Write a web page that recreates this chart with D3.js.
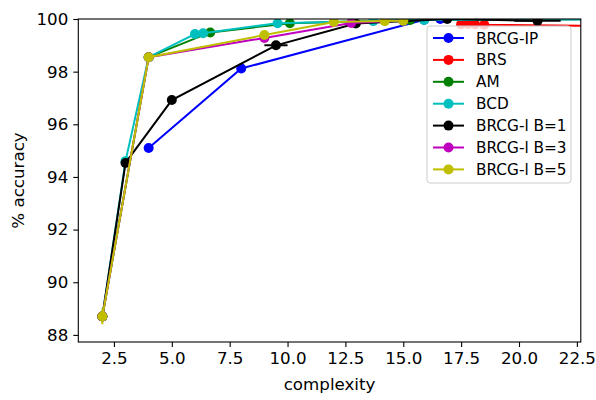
<!DOCTYPE html>
<html>
<head>
<meta charset="utf-8">
<script src="https://cdn.jsdelivr.net/npm/d3@7"></script>
<style>
  body { margin: 0; background: #fff; }
  svg { font-family: "DejaVu Sans", sans-serif; }
</style>
</head>
<body>
<div id="chart"></div>
<script>
// series: [complexity, accuracy]
const seriesNames = ["BRCG-IP", "BRS", "AM", "BCD", "BRCG-l B=1", "BRCG-l B=3", "BRCG-l B=5"];
const seriesColors = ["#0000ff", "#ff0000", "#008000", "#00bfbf", "#000000", "#bf00bf", "#bfbf00"];

const brcgIP = [[4, 95.1], [8, 98.12], [15.9, 99.97], [16.6, 100.0]];
const brs = [[17.5, 99.8], [17.8, 99.81], [18.1, 99.8], [18.5, 99.78], [23.5, 99.74]];
const am = [[2, 88.7], [4, 98.55], [6.66, 99.49], [10.1, 99.84], [15.3, 99.96], [23.5, 99.99]];
const bcd = [[2, 88.7], [3, 94.6], [4, 98.55], [6.0, 99.43], [6.35, 99.46], [9.57, 99.84], [13.7, 99.92], [15.9, 99.96], [23.5, 99.98]];
const brcgB1 = [[2, 88.7], [3, 94.53], [5, 96.92], [9.5, 99.0], [12.95, 99.83], [16.9, 100.0], [20.8, 99.93]];
const brcgB3 = [[2, 88.7], [4, 98.55], [9, 99.28], [12.75, 99.85], [15.0, 99.94]];
const brcgB5 = [[2, 88.7], [4, 98.55], [9, 99.39], [12, 99.89], [14.2, 99.92], [15.0, 99.93]];
const allSeries = [brcgIP, brs, am, bcd, brcgB1, brcgB3, brcgB5];

// error bars: [series index, x, y, xerr, yerr]
const errorBars = [[0, 4, 95.1, 0, 0.15], [6, 2, 88.7, 0, 0.3], [4, 9.5, 99.0, 0.5, 0], [4, 20.8, 99.93, 1.0, 0]];

const xTicks = [2.5, 5, 7.5, 10, 12.5, 15, 17.5, 20, 22.5];
const yTicks = [88, 90, 92, 94, 96, 98, 100];

const W = 596, H = 400;
const m = { left: 78.3, right: 580.8, top: 19, bottom: 342 };

const svg = d3.select("#chart").append("svg").attr("width", W).attr("height", H);

const x = d3.scaleLinear().domain([0.96, 22.67]).range([m.left, m.right]);
const y = d3.scaleLinear().domain([87.73, 100]).range([m.bottom, m.top]);

svg.append("clipPath").attr("id", "clip")
  .append("rect")
  .attr("x", m.left).attr("y", m.top)
  .attr("width", m.right - m.left).attr("height", m.bottom - m.top);

const plot = svg.append("g").attr("clip-path", "url(#clip)");
const line = d3.line().x(d => x(d[0])).y(d => y(d[1]));

allSeries.forEach((data, i) => {
  const g = plot.append("g");
  g.append("path")
    .datum(data)
    .attr("d", line)
    .attr("fill", "none")
    .attr("stroke", seriesColors[i])
    .attr("stroke-width", 2);
  errorBars.filter(e => e[0] === i).forEach(e => {
    g.append("line")
      .attr("x1", x(e[1] - e[3])).attr("x2", x(e[1] + e[3]))
      .attr("y1", y(e[2] - e[4])).attr("y2", y(e[2] + e[4]))
      .attr("stroke", seriesColors[i]).attr("stroke-width", 2);
  });
  g.selectAll("circle")
    .data(data)
    .enter()
    .append("circle")
    .attr("cx", d => x(d[0]))
    .attr("cy", d => y(d[1]))
    .attr("r", 5)
    .attr("fill", seriesColors[i]);
});

// axes
const xAxis = d3.axisBottom(x).tickValues(xTicks).tickFormat(d3.format(".1f")).tickSize(5).tickPadding(5);
const yAxis = d3.axisLeft(y).tickValues(yTicks).tickFormat(d3.format("d")).tickSize(5).tickPadding(5);

const gx = svg.append("g").attr("transform", `translate(0,${m.bottom})`).call(xAxis);
const gy = svg.append("g").attr("transform", `translate(${m.left},0)`).call(yAxis);
[gx, gy].forEach(a => {
  a.select(".domain").remove();
  a.selectAll("text").attr("font-size", 16.7).attr("fill", "#000").attr("font-family", "DejaVu Sans");
  a.selectAll("line").attr("stroke", "#000").attr("stroke-width", 1.1);
});

// frame
svg.append("rect")
  .attr("x", m.left).attr("y", m.top)
  .attr("width", m.right - m.left).attr("height", m.bottom - m.top)
  .attr("fill", "none").attr("stroke", "#000").attr("stroke-width", 1.1);

svg.append("text")
  .attr("x", (m.left + m.right) / 2).attr("y", 390)
  .attr("text-anchor", "middle").attr("font-size", 16.7)
  .text("complexity");

svg.append("text")
  .attr("transform", `translate(24,${(m.top + m.bottom) / 2}) rotate(-90)`)
  .attr("text-anchor", "middle").attr("font-size", 16.7)
  .text("% accuracy");

// legend
const leg = svg.append("g").attr("transform", "translate(427,26)");
leg.append("rect")
  .attr("width", 144).attr("height", 157).attr("rx", 3)
  .attr("fill", "#fff").attr("fill-opacity", 0.8)
  .attr("stroke", "#cccccc").attr("stroke-width", 1);

seriesNames.forEach((name, i) => {
  const cy = 12 + i * 21.9;
  leg.append("line")
    .attr("x1", 6).attr("x2", 37).attr("y1", cy).attr("y2", cy)
    .attr("stroke", seriesColors[i]).attr("stroke-width", 2);
  leg.append("circle").attr("cx", 21.5).attr("cy", cy).attr("r", 5).attr("fill", seriesColors[i]);
  leg.append("text")
    .attr("x", 49).attr("y", cy).attr("dy", "0.36em")
    .attr("font-size", 15.3)
    .text(name);
});
</script>
</body>
</html>
